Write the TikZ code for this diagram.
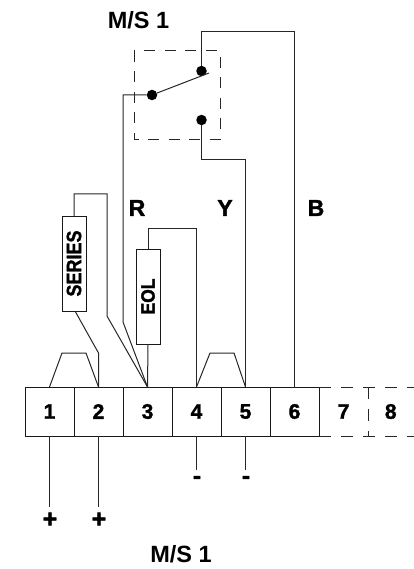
\documentclass[tikz,border=0pt]{standalone}
\usepackage{fontspec}
\setmainfont{Liberation Sans}
\newfontfamily\heavyfont{Liberation Sans}[BoldFeatures={FakeBold=1.6}]
\usetikzlibrary{positioning}

\tikzset{
    wire/.style={line width=1pt, black!85},
    dashline/.style={line width=1pt, black!85, dash pattern=on 12pt off 10pt},
    boxline/.style={line width=1pt, black!85, dash pattern=on 11pt off 9.5pt},
    terminal/.style={draw, line width=1pt, black!90, rectangle, minimum width=49pt, minimum height=49pt, inner sep=0pt, outer sep=0pt, text=black, font=\fontsize{21}{23}\heavyfont\bfseries},
    openterminal/.style={terminal, draw=none},
    resistor/.style={draw, line width=1pt, black!90, fill=white, rectangle, minimum width=24pt, inner sep=0pt, outer sep=0pt, text=black},
    contact/.style={circle, fill=black, minimum size=10.5pt, inner sep=0pt},
    sign/.style={inner sep=0pt, font=\fontsize{25}{27}\heavyfont\bfseries},
    title/.style={inner sep=0pt, font=\fontsize{23.5}{25}\selectfont\bfseries},
    letter/.style={inner sep=0pt, font=\fontsize{23}{25}\heavyfont\bfseries}
}

\begin{document}
\begin{tikzpicture}[x=1pt, y=-1pt, node distance=0pt]
    \useasboundingbox (0,0) rectangle (414,569);

    % Terminal strip
    \node[terminal] (t1) at (49.5,411.5) {1};
    \node[terminal, right=of t1] (t2) {2};
    \node[terminal, right=of t2] (t3) {3};
    \node[terminal, right=of t3] (t4) {4};
    \node[terminal, right=of t4] (t5) {5};
    \node[terminal, right=of t5] (t6) {6};
    \node[openterminal, right=of t6] (t7) {7};
    \node[openterminal, right=of t7, minimum width=45.5pt] (t8) {8};

    % Dashed part of the strip
    \draw[dashline] (t6.north east) -- (t8.north east);
    \draw[dashline] (t6.south east) -- (t8.south east);
    \draw[dashline] (t7.north east) -- (t7.south east);

    % Resistors
    \node[resistor, minimum height=95pt] (series) at (74,263.5) {\rotatebox{90}{\scalebox{1}[1.15]{\fontsize{18}{20}\heavyfont\bfseries SERIES}}};
    \node[resistor, minimum height=95pt] (eol) at (148,296.5) {\rotatebox{90}{\scalebox{1}[1.1]{\fontsize{17.5}{20}\heavyfont\bfseries EOL}}};

    % Switch
    \node[contact] (common) at (152,95) {};
    \node[contact] (upper) at (201.5,71) {};
    \node[contact] (lower) at (201.5,120) {};
    \coordinate (armend) at (209,73);
    \coordinate (swboxa) at (134,51);
    \coordinate (swboxb) at (220,139.5);
    \draw[boxline] (swboxa) rectangle (swboxb);
    \draw[wire] (common) -- (armend);

    % Bend points
    \coordinate (jump1a) at (62,353);
    \coordinate (jump1b) at (86,353);
    \coordinate (jump2a) at (210,353);
    \coordinate (jump2b) at (234,353);
    \coordinate (serbend) at (98.5,353);
    \coordinate (sertop) at (107,194);
    \coordinate (serdiag) at (107,316);
    \coordinate (rtop) at (123,95);
    \coordinate (rdiag) at (123,322);
    \coordinate (eoltop) at (196.5,228);
    \coordinate (ytop) at (245.5,160);
    \coordinate (btop) at (294.5,32);

    % Connections
    \draw[wire] (t1.north) -- (jump1a) -- (jump1b) -- (t2.north);
    \draw[wire] (t4.north) -- (jump2a) -- (jump2b) -- (t5.north);
    \draw[wire] (series.south) ++(1,0) -- (serbend) -- (t2.north);
    \draw[wire] (series.north) |- (sertop) -- (serdiag) -- (t3.north);
    \draw[wire] (common) -- (rtop) -- (rdiag) -- (t3.north);
    \draw[wire] (eol.south) -- (t3.north);
    \draw[wire] (eol.north) |- (eoltop) -- (t4.north);
    \draw[wire] (lower) |- (ytop) -- (t5.north);
    \draw[wire] (upper) |- (btop) -- (t6.north);

    % Supply wires
    \coordinate[below=71pt of t1.south] (end1);
    \coordinate[below=71pt of t2.south] (end2);
    \coordinate[below=34pt of t4.south] (end4);
    \coordinate[below=34pt of t5.south] (end5);
    \draw[wire] (t1.south) -- (end1);
    \draw[wire] (t2.south) -- (end2);
    \draw[wire] (t4.south) -- (end4);
    \draw[wire] (t5.south) -- (end5);

    % Labels
    \node[sign] (plus1) at (50,520) {+};
    \node[sign] (plus2) at (99,520) {+};
    \node[sign] (minus4) at (197,480) {-};
    \node[sign] (minus5) at (246,480) {-};
    \node[title] (topname) at (138.5,20) {M/S 1};
    \node[title] (botname) at (181,554) {M/S 1};
    \node[letter] (lblr) at (137,208) {R};
    \node[letter] (lbly) at (225,208) {Y};
    \node[letter] (lblb) at (316,208) {B};
\end{tikzpicture}
\end{document}
